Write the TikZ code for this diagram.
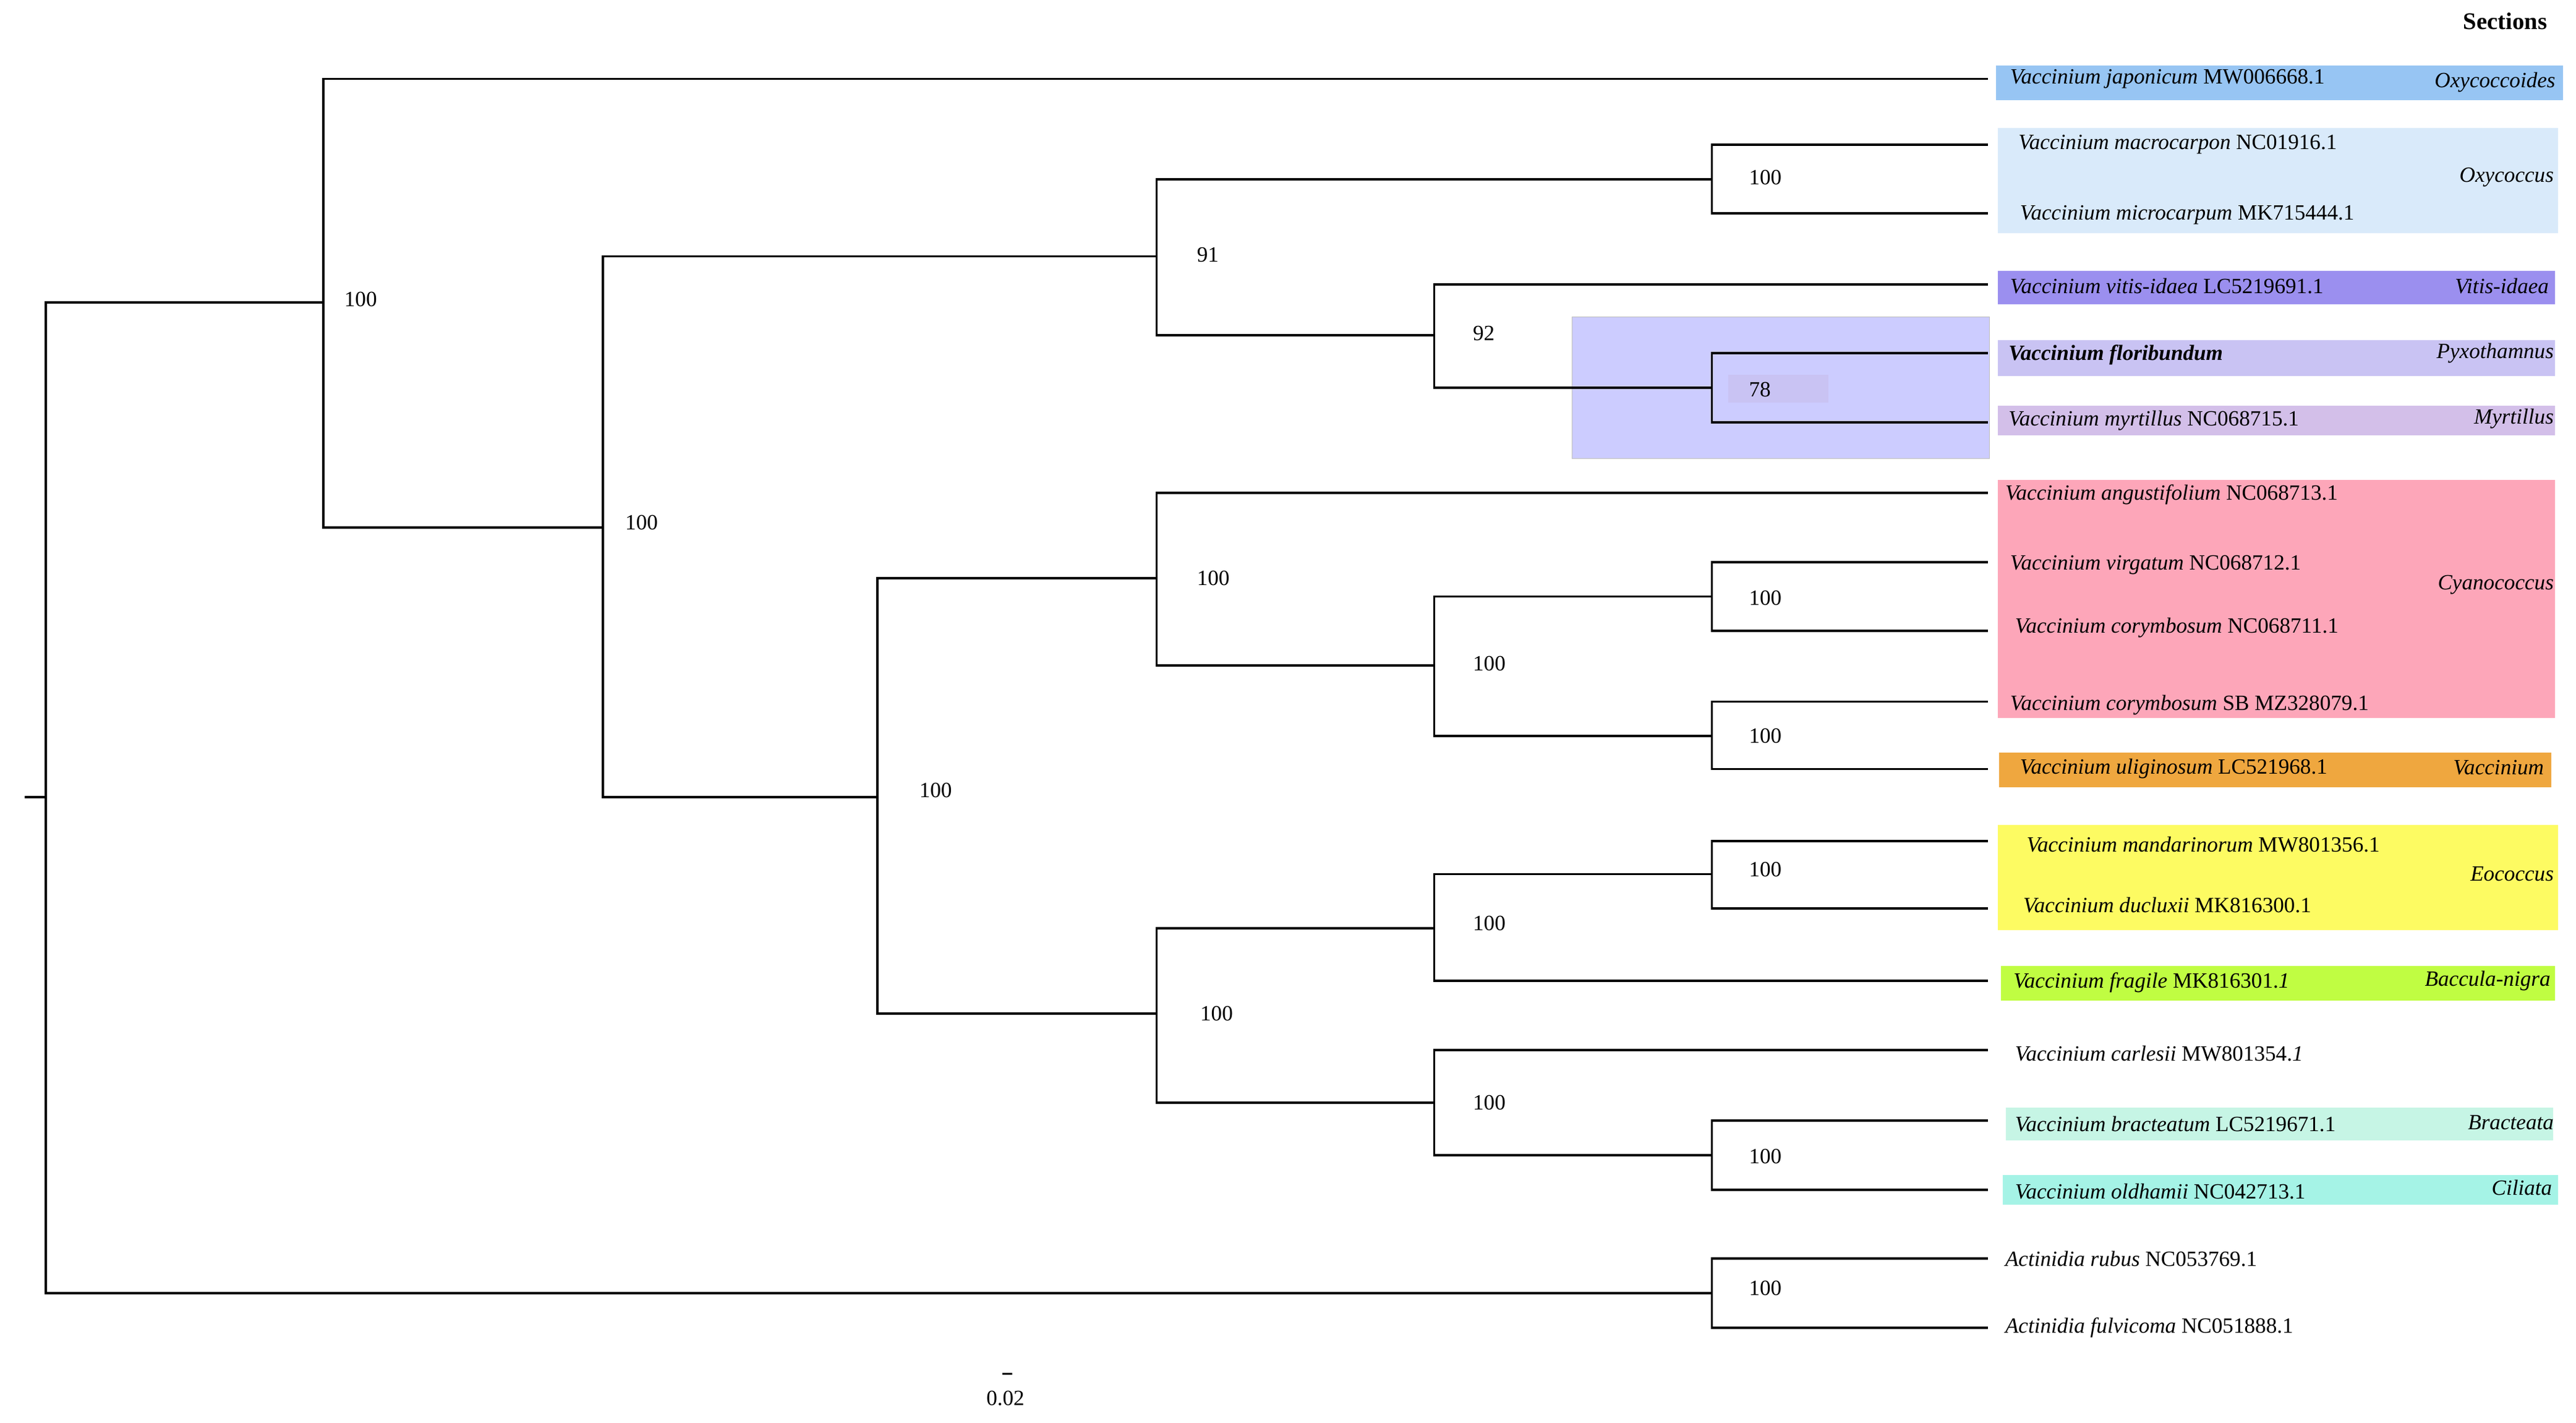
\documentclass[tikz,border=0pt]{standalone}
\usepackage{fontspec}
\setmainfont{Liberation Serif}
\usepackage{tikz}
\usetikzlibrary{calc}
\definecolor{cJap}{HTML}{97C5F3}
\definecolor{cOxy}{HTML}{D9EAFA}
\definecolor{cVit}{HTML}{9B8FEF}
\definecolor{cPyx}{HTML}{C9C3F3}
\definecolor{cMyr}{HTML}{D3BFE9}
\definecolor{cHi}{HTML}{CCCCFF}
\definecolor{cCya}{HTML}{FDA6B9}
\definecolor{cVac}{HTML}{EFA73F}
\definecolor{cEoc}{HTML}{FDFB62}
\definecolor{cBac}{HTML}{C0FD42}
\definecolor{cBra}{HTML}{C6F5E5}
\definecolor{cCil}{HTML}{A5F3E6}
\tikzset{
  tip/.style={anchor=west,inner sep=1pt,font=\fontsize{10}{12}\selectfont\itshape},
  sect/.style={anchor=east,inner sep=1pt,font=\fontsize{10}{12}\selectfont\itshape},
  boot/.style={anchor=west,inner sep=1pt,font=\fontsize{10}{12}\selectfont},
  branch/.style={line width=1.1pt}
}
\begin{document}
\begin{tikzpicture}[x=0.02657cm,y=-0.02657cm]
  \useasboundingbox (0,0) rectangle (1568,866);
  % section boxes
  \fill[cJap] (1215,40) rectangle (1560,61);
  \fill[cOxy] (1216,78) rectangle (1557,142);
  \fill[cVit] (1216,165) rectangle (1555,185);
  \fill[cPyx] (1216,207) rectangle (1555,229);
  \fill[cMyr] (1216,247) rectangle (1555,265);
  \fill[cHi,draw=gray!50] (957,193) rectangle (1211,279);
  \fill[cPyx] (1052,228) rectangle (1113,245);
  \fill[cCya] (1216,292) rectangle (1555,437);
  \fill[cVac] (1217,458) rectangle (1553,479);
  \fill[cEoc] (1216,502) rectangle (1557,566);
  \fill[cBac] (1218,588) rectangle (1555,609);
  \fill[cBra] (1221,674) rectangle (1554,694);
  \fill[cCil] (1219,715) rectangle (1557,733);
  % tips
  \foreach \n/\y in {jap/48,mac/88,mic/130,vit/173,flo/215,myr/257,ang/300,vir/342,
    cor/384,cSB/427,uli/468,man/512,duc/553,fra/597,car/639,bra/682,old/724,rub/766,ful/808}
    \coordinate (\n) at (1210,\y);
  % internal nodes
  \coordinate (Root) at (28,485);
  \coordinate (Stub) at (15,485);
  \coordinate (A) at (197,184);
  \coordinate (B) at (367,321);
  \coordinate (C) at (704,156);
  \coordinate (Oxy) at (1042,109);
  \coordinate (D) at (873,204);
  \coordinate (E) at (1042,236);
  \coordinate (F) at (534,485);
  \coordinate (G) at (704,352);
  \coordinate (H) at (873,405);
  \coordinate (I) at (1042,363);
  \coordinate (J) at (1042,448);
  \coordinate (K) at (704,617);
  \coordinate (L) at (873,565);
  \coordinate (M) at (1042,532);
  \coordinate (N) at (873,671);
  \coordinate (O) at (1042,703);
  \coordinate (P) at (1042,787);
  % branches
  \draw[branch] (Stub) -- (Root);
  \draw[branch] (Root) |- (A); \draw[branch] (Root) |- (P);
  \draw[branch] (A) |- (jap); \draw[branch] (A) |- (B);
  \draw[branch] (B) |- (C); \draw[branch] (B) |- (F);
  \draw[branch] (C) |- (Oxy); \draw[branch] (C) |- (D);
  \draw[branch] (Oxy) |- (mac); \draw[branch] (Oxy) |- (mic);
  \draw[branch] (D) |- (vit); \draw[branch] (D) |- (E);
  \draw[branch] (E) |- (flo); \draw[branch] (E) |- (myr);
  \draw[branch] (F) |- (G); \draw[branch] (F) |- (K);
  \draw[branch] (G) |- (ang); \draw[branch] (G) |- (H);
  \draw[branch] (H) |- (I); \draw[branch] (H) |- (J);
  \draw[branch] (I) |- (vir); \draw[branch] (I) |- (cor);
  \draw[branch] (J) |- (cSB); \draw[branch] (J) |- (uli);
  \draw[branch] (K) |- (L); \draw[branch] (K) |- (N);
  \draw[branch] (L) |- (M); \draw[branch] (L) |- (fra);
  \draw[branch] (M) |- (man); \draw[branch] (M) |- (duc);
  \draw[branch] (N) |- (car); \draw[branch] (N) |- (O);
  \draw[branch] (O) |- (bra); \draw[branch] (O) |- (old);
  \draw[branch] (P) |- (rub); \draw[branch] (P) |- (ful);
  % bootstrap values
  \node[boot] (bA) at (208,182) {100};
  \node[boot] (bB) at (379,318) {100};
  \node[boot] (bC) at (727,155) {91};
  \node[boot] (bOxy) at (1063,108) {100};
  \node[boot] (bD) at (895,203) {92};
  \node[boot] (bE) at (1063,237) {78};
  \node[boot] (bF) at (558,481) {100};
  \node[boot] (bG) at (727,352) {100};
  \node[boot] (bH) at (895,404) {100};
  \node[boot] (bI) at (1063,364) {100};
  \node[boot] (bJ) at (1063,448) {100};
  \node[boot] (bK) at (729,617) {100};
  \node[boot] (bL) at (895,562) {100};
  \node[boot] (bM) at (1063,529) {100};
  \node[boot] (bN) at (895,671) {100};
  \node[boot] (bO) at (1063,704) {100};
  \node[boot] (bP) at (1063,784) {100};
  % tip labels
  \node[tip] (tJap) at (1222,48) {Vaccinium japonicum \upshape MW006668.1};
  \node[tip] (tMac) at (1227,88) {Vaccinium macrocarpon \upshape NC01916.1};
  \node[tip] (tMic) at (1228,131) {Vaccinium microcarpum \upshape MK715444.1};
  \node[tip] (tVit) at (1222,174) {Vaccinium vitis-idaea \upshape LC5219691.1};
  \node[tip,font=\fontsize{10}{12}\selectfont\bfseries\itshape] (tFlo) at (1221,216) {Vaccinium floribundum};
  \node[tip] (tMyr) at (1221,256) {Vaccinium myrtillus \upshape NC068715.1};
  \node[tip] (tAng) at (1219,301) {Vaccinium angustifolium \upshape NC068713.1};
  \node[tip] (tVir) at (1222,344) {Vaccinium virgatum \upshape NC068712.1};
  \node[tip] (tCor) at (1225,382) {Vaccinium corymbosum \upshape NC068711.1};
  \node[tip] (tSB) at (1222,429) {Vaccinium corymbosum \upshape SB MZ328079.1};
  \node[tip] (tUli) at (1228,468) {Vaccinium uliginosum \upshape LC521968.1};
  \node[tip] (tMan) at (1232,514) {Vaccinium mandarinorum \upshape MW801356.1};
  \node[tip] (tDuc) at (1230,551) {Vaccinium ducluxii \upshape MK816300.1};
  \node[tip] (tFra) at (1224,598) {Vaccinium fragile \upshape MK816301.\itshape 1};
  \node[tip] (tCar) at (1225,641) {Vaccinium carlesii \upshape MW801354.\itshape 1};
  \node[tip] (tBra) at (1225,684) {Vaccinium bracteatum \upshape LC5219671.1};
  \node[tip] (tOld) at (1225,725) {Vaccinium oldhamii \upshape NC042713.1};
  \node[tip] (tRub) at (1219,766) {Actinidia rubus \upshape NC053769.1};
  \node[tip] (tFul) at (1219,808) {Actinidia fulvicoma \upshape NC051888.1};
  % sections
  \node[anchor=east,inner sep=1pt,font=\fontsize{11}{13}\selectfont\bfseries] (hdr) at (1552,13) {Sections};
  \node[sect] (sJap) at (1557,50) {Oxycoccoides};
  \node[sect] (sOxy) at (1556,108) {Oxycoccus};
  \node[sect] (sVit) at (1553,174) {Vitis-idaea};
  \node[sect] (sPyx) at (1556,215) {Pyxothamnus};
  \node[sect] (sMyr) at (1556,255) {Myrtillus};
  \node[sect] (sCya) at (1556,356) {Cyanococcus};
  \node[sect] (sVac) at (1550,467) {Vaccinium};
  \node[sect] (sEoc) at (1556,532) {Eococcus};
  \node[sect] (sBac) at (1554,597) {Baccula-nigra};
  \node[sect] (sBra) at (1556,683) {Bracteata};
  \node[sect] (sCil) at (1555,723) {Ciliata};
  % scale bar
  \coordinate (s1) at (610,836);
  \coordinate (s2) at (616,836);
  \draw[line width=0.8pt] (s1) -- (s2);
  \node[boot,anchor=center] (sLab) at (612,851) {0.02};
\end{tikzpicture}
\end{document}
